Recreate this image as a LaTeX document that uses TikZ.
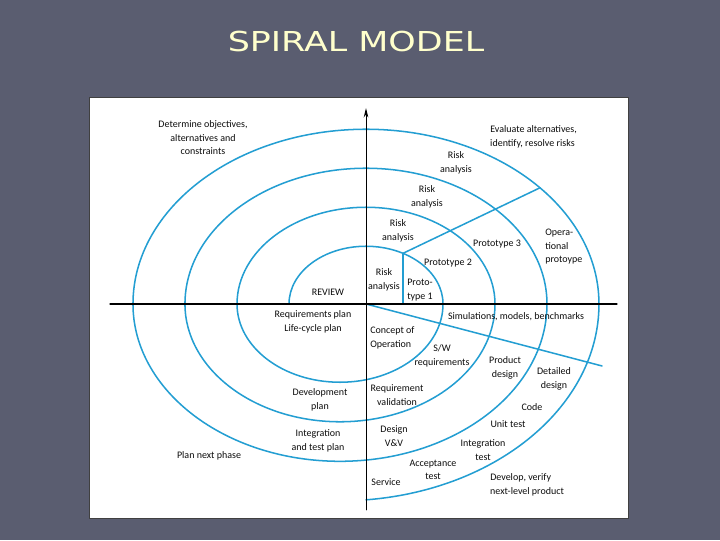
\documentclass[tikz,border=0pt]{standalone}
\usepackage{fontspec}
\setmainfont{Carlito}
\newfontfamily\titlefont{DejaVu Sans}
\usetikzlibrary{arrows,arrows.meta}
\definecolor{slidebg}{RGB}{90,93,112}
\definecolor{spiralblue}{RGB}{35,158,210}
\definecolor{titlecream}{RGB}{255,255,204}

\begin{document}
\begin{tikzpicture}[line cap=round,line join=round,>={Stealth[length=7.5pt,width=3.6pt]},x=1.0cm,y=1.0cm,
  lbl/.style={font=\fontsize{7.9}{10.7}\selectfont,align=center,text=black!95,inner sep=0pt},
  lbll/.style={lbl,align=left},
  spiralline/.style={spiralblue,line width=1.2pt}]
\clip(-10.167,-6.556) rectangle (9.833,8.444);
\fill[slidebg] (-10.167,-6.556) rectangle (9.833,8.444);
\node[text=titlecream,font=\titlefont\fontsize{21.7}{26}\selectfont,xscale=1.27,inner sep=0pt] (title) at (-0.278,7.278) {SPIRAL MODEL};
\draw[fill=white,draw=black!75,line width=0.6pt] (-7.694,-5.944) rectangle (7.278,5.75);
% spiral
\draw[spiralline] (-2.139,0) arc (180:0:2.139 and 1.604) arc (0:-180:2.861 and 2.174)
  arc (180:0:3.583 and 2.687) arc (0:-180:4.306 and 3.272)
  arc (180:0:5.028 and 3.771) arc (0:-180:5.75 and 4.37)
  arc (180:0:6.472 and 4.854) arc (0:-84.24:7.194 and 5.468);
\coordinate (O) at (0,0);
\coordinate (protofoot) at (1.028,0);
\coordinate (prototop) at (1.028,1.407);
\coordinate (protoend) at (4.833,3.228);
\coordinate (reqend) at (6.556,-1.722);
\draw[spiralline] (protofoot)-- (prototop);
\draw[spiralline] (prototop)-- (protoend);
\draw[spiralline] (O)-- (reqend);
% axes
\coordinate (xleft) at (-7.111,0);
\coordinate (xright) at (6.972,0);
\coordinate (ybottom) at (0,-5.722);
\coordinate (ytop) at (0,5.444);
\draw[line width=0.9pt] (xleft)-- (xright);
\draw[->,line width=0.8pt] (ybottom)-- (ytop);
% upper left
\node[lbl] (determine) at (-4.528,4.611) {Determine objectives,\\alternatives and\\constraints};
\node[lbl] (review) at (-1.056,0.333) {REVIEW};
% upper right
\node[lbll,anchor=west] (evaluate) at (3.444,4.639) {Evaluate alternatives,\\identify, resolve risks};
\node[lbl] (riskfour) at (2.5,3.917) {Risk\\analysis};
\node[lbl] (riskthree) at (1.694,2.972) {Risk\\analysis};
\node[lbl] (risktwo) at (0.889,2.028) {Risk\\analysis};
\node[lbl] (riskone) at (0.5,0.667) {Risk\\analysis};
\node[lbll,anchor=west] (protoone) at (1.139,0.389) {Proto-\\type 1};
\node[lbl] (prototwo) at (2.278,1.139) {Prototype 2};
\node[lbl] (protothree) at (3.639,1.667) {Prototype 3};
\node[lbll,anchor=west] (opproto) at (4.972,1.583) {Opera-\\tional\\protoype};
% lower left
\node[lbl] (reqplan) at (-1.472,-0.5) {Requirements plan\\Life-cycle plan};
\node[lbl] (devplan) at (-1.278,-2.667) {Development\\plan};
\node[lbl] (intplan) at (-1.333,-3.806) {Integration\\and test plan};
\node[lbl] (nextphase) at (-4.361,-4.222) {Plan next phase};
% lower right
\node[lbl] (simulations) at (4.167,-0.361) {Simulations, models, benchmarks};
\node[lbll,anchor=west] (concept) at (0.111,-0.944) {Concept of\\Operation};
\node[lbl] (swreq) at (2.111,-1.444) {S/W\\requirements};
\node[lbl] (proddesign) at (3.861,-1.778) {Product\\design};
\node[lbl] (detdesign) at (5.222,-2.083) {Detailed\\design};
\node[lbl] (reqval) at (0.861,-2.528) {Requirement\\validation};
\node[lbl] (code) at (4.611,-2.861) {Code};
\node[lbl] (unittest) at (3.944,-3.333) {Unit test};
\node[lbl] (designvv) at (0.778,-3.667) {Design\\V\&V};
\node[lbl] (inttest) at (3.25,-4.056) {Integration\\test};
\node[lbl] (acctest) at (1.861,-4.611) {Acceptance\\test};
\node[lbl] (service) at (0.556,-4.944) {Service};
\node[lbll,anchor=west] (develop) at (3.444,-5.028) {Develop, verify\\next-level product};
\end{tikzpicture}
\end{document}
